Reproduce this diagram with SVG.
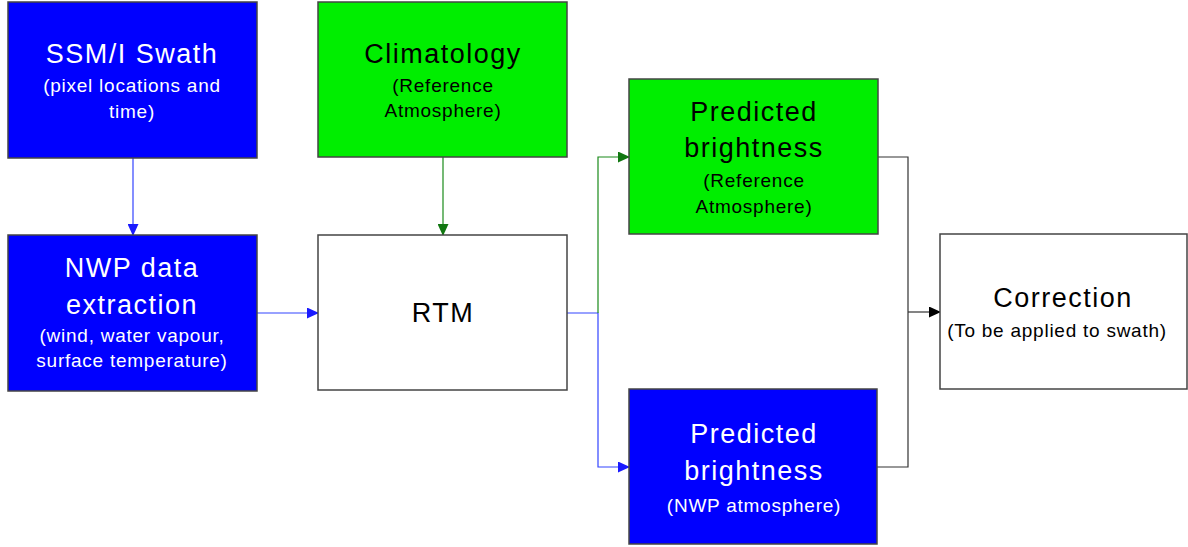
<svg xmlns="http://www.w3.org/2000/svg" width="1188" height="547" viewBox="0 0 1188 547">
<style>
.box{stroke:#444;stroke-width:1.5}
.blue{fill:#0000ff}
.green{fill:#00ee00}
.white{fill:#ffffff}
text{font-family:"Liberation Sans",Arial,sans-serif;text-anchor:middle}
.t{font-size:27px;letter-spacing:1.5px}
.s{font-size:19px;letter-spacing:0.75px}
.w{fill:#ffffff}
.k{fill:#000000}
.cb{stroke:#3344ff;fill:none;stroke-width:1.2}
.cg{stroke:#1a8a1a;fill:none;stroke-width:1.2}
.ck{stroke:#333;fill:none;stroke-width:1.2}
</style>
<defs>
<marker id="ab" markerWidth="12" markerHeight="11" refX="11" refY="5.5" orient="auto" markerUnits="userSpaceOnUse"><path d="M0,0 L12,5.5 L0,11 Z" fill="#1a1aff"/></marker>
<marker id="ag" markerWidth="12" markerHeight="11" refX="11" refY="5.5" orient="auto" markerUnits="userSpaceOnUse"><path d="M0,0 L12,5.5 L0,11 Z" fill="#117711"/></marker>
<marker id="ak" markerWidth="12" markerHeight="11" refX="11" refY="5.5" orient="auto" markerUnits="userSpaceOnUse"><path d="M0,0 L12,5.5 L0,11 Z" fill="#000"/></marker>
</defs>
<g id="connectors">
<path class="cb" d="M133,158 V235" marker-end="url(#ab)"/>
<path class="cb" d="M257,313 H318" marker-end="url(#ab)"/>
<path class="cg" d="M443,157 V235" marker-end="url(#ag)"/>
<path class="cb" d="M567,313 H598 V467 H629" marker-end="url(#ab)"/>
<path class="cg" d="M598,313 V157 H629" marker-end="url(#ag)"/>
<path class="ck" d="M878,157 H908 V467 H877"/>
<path class="ck" d="M908,312 H940" marker-end="url(#ak)"/>
</g>
<g id="ssmi">
<rect class="box blue" x="8" y="2" width="249" height="156"/>
<text class="t w" x="132" y="63">SSM/I Swath</text>
<text class="s w" x="132" y="92">(pixel locations and</text>
<text class="s w" x="132" y="118">time)</text>
</g>
<g id="nwp">
<rect class="box blue" x="8" y="235" width="249" height="156"/>
<text class="t w" x="132" y="277">NWP data</text>
<text class="t w" x="132" y="314">extraction</text>
<text class="s w" x="132" y="342">(wind, water vapour,</text>
<text class="s w" x="132" y="367">surface temperature)</text>
</g>
<g id="climatology">
<rect class="box green" x="318" y="2" width="249" height="155"/>
<text class="t k" x="443" y="63">Climatology</text>
<text class="s k" x="443" y="92">(Reference</text>
<text class="s k" x="443" y="117">Atmosphere)</text>
</g>
<g id="rtm">
<rect class="box white" x="318" y="235" width="249" height="155"/>
<text class="t k" x="443" y="322">RTM</text>
</g>
<g id="pred-ref">
<rect class="box green" x="629" y="79" width="249" height="155"/>
<text class="t k" x="754" y="121">Predicted</text>
<text class="t k" x="754" y="157">brightness</text>
<text class="s k" x="754" y="187">(Reference</text>
<text class="s k" x="754" y="213">Atmosphere)</text>
</g>
<g id="pred-nwp">
<rect class="box blue" x="629" y="389" width="248" height="155"/>
<text class="t w" x="754" y="443">Predicted</text>
<text class="t w" x="754" y="480">brightness</text>
<text class="s w" x="754" y="512">(NWP atmosphere)</text>
</g>
<g id="correction">
<rect class="box white" x="940" y="234" width="247" height="155"/>
<text class="t k" x="1063" y="307">Correction</text>
<text class="s k" x="1057" y="337">(To be applied to swath)</text>
</g>
</svg>
